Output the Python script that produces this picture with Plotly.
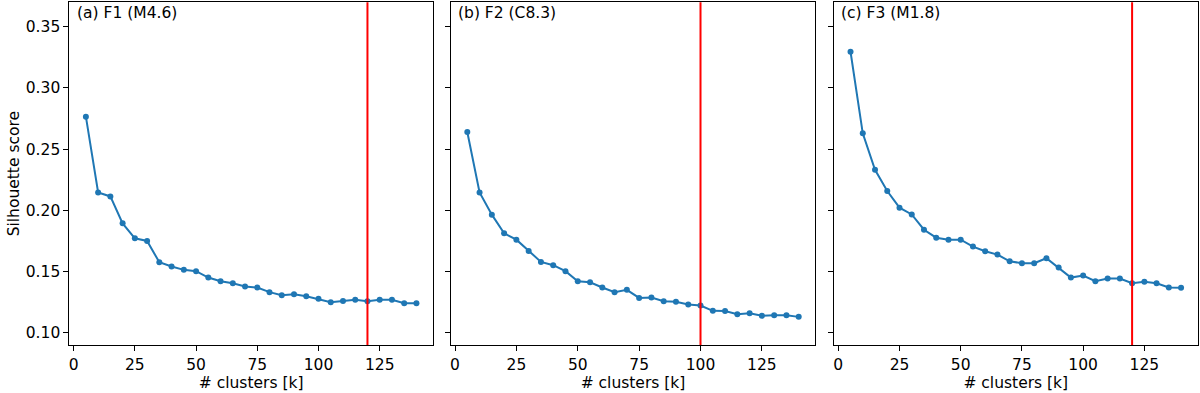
import plotly.graph_objects as go

# Anzahl Cluster k
k_values = [5, 10, 15, 20, 25, 30, 35, 40, 45, 50, 55, 60, 65, 70, 75,
            80, 85, 90, 95, 100, 105, 110, 115, 120, 125, 130, 135, 140]

# Silhouette scores pro Flare
score_f1 = [0.2766, 0.2147, 0.2114, 0.1894, 0.1772, 0.1750, 0.1576, 0.1541,
            0.1514, 0.1503, 0.1451, 0.1421, 0.1405, 0.1378, 0.1370, 0.1332,
            0.1307, 0.1315, 0.1299, 0.1277, 0.1250, 0.1260, 0.1269, 0.1258,
            0.1269, 0.1269, 0.1242, 0.1242]
score_f2 = [0.2641, 0.2147, 0.1965, 0.1813, 0.1761, 0.1668, 0.1579, 0.1552,
            0.1503, 0.1421, 0.1413, 0.1370, 0.1332, 0.1351, 0.1285, 0.1288,
            0.1258, 0.1253, 0.1231, 0.1223, 0.1179, 0.1177, 0.1152, 0.1160,
            0.1139, 0.1144, 0.1144, 0.1130]
score_f3 = [0.3296, 0.2630, 0.2332, 0.2158, 0.2022, 0.1967, 0.1842, 0.1777,
            0.1761, 0.1761, 0.1704, 0.1666, 0.1639, 0.1584, 0.1568, 0.1568,
            0.1609, 0.1533, 0.1451, 0.1467, 0.1421, 0.1443, 0.1443, 0.1405,
            0.1416, 0.1405, 0.1370, 0.1367]

panel_labels = ["(a) F1 (M4.6)", "(b) F2 (C8.3)", "(c) F3 (M1.8)"]
chosen_k = [120, 100, 120]
scores = [score_f1, score_f2, score_f3]

x_ticks = [0, 25, 50, 75, 100, 125]
y_ticks = [0.10, 0.15, 0.20, 0.25, 0.30, 0.35]

domains = [[0.0578, 0.3608], [0.3756, 0.6794], [0.695, 0.998]]
y_domain = [0.1221, 0.9941]

font = dict(family="DejaVu Sans", size=15.5, color="black")
blue = "#1f77b4"

fig = go.Figure()

for i, (s, lab, kc) in enumerate(zip(scores, panel_labels, chosen_k)):
    n = "" if i == 0 else str(i + 1)
    fig.add_trace(go.Scatter(
        x=k_values, y=s, mode="lines+markers",
        line=dict(color=blue, width=2),
        marker=dict(color=blue, size=6),
        xaxis="x" + n, yaxis="y" + n, showlegend=False
    ))
    # rote Linie beim gewaehlten k
    fig.add_shape(type="line", x0=kc, x1=kc, y0=0, y1=1,
                  xref="x" + n, yref="y" + n + " domain",
                  line=dict(color="red", width=2))
    fig.add_annotation(text=lab, x=0.015, y=1.0, xref="x" + n + " domain",
                       yref="y" + n + " domain", xanchor="left", yanchor="top",
                       showarrow=False, font=font)

    axis_common = dict(showline=True, mirror=True, linecolor="black", linewidth=1,
                       ticks="outside", ticklen=5, tickcolor="black",
                       showgrid=False, zeroline=False, tickfont=font,
                       automargin=False)
    fig.layout["xaxis" + n] = dict(
        domain=domains[i], range=[-1.75, 146.75], tickvals=x_ticks,
        anchor="y" + n,
        title=dict(text="# clusters [k]", font=font, standoff=2),
        **axis_common
    )
    fig.layout["yaxis" + n] = dict(
        domain=y_domain, range=[0.09, 0.37], tickvals=y_ticks,
        tickformat=".2f", anchor="x" + n, showticklabels=(i == 0),
        title=dict(text="Silhouette score" if i == 0 else "", font=font, standoff=2),
        **axis_common
    )

fig.update_layout(
    width=1200, height=393,
    margin=dict(l=0, r=0, t=0, b=0),
    plot_bgcolor="white", paper_bgcolor="white",
    font=font
)

# Seitenrand des Browsers entfernen
fig.write_html("out.html", config={"displayModeBar": False},
               post_script="document.body.style.margin='0';document.body.style.overflow='hidden';")
